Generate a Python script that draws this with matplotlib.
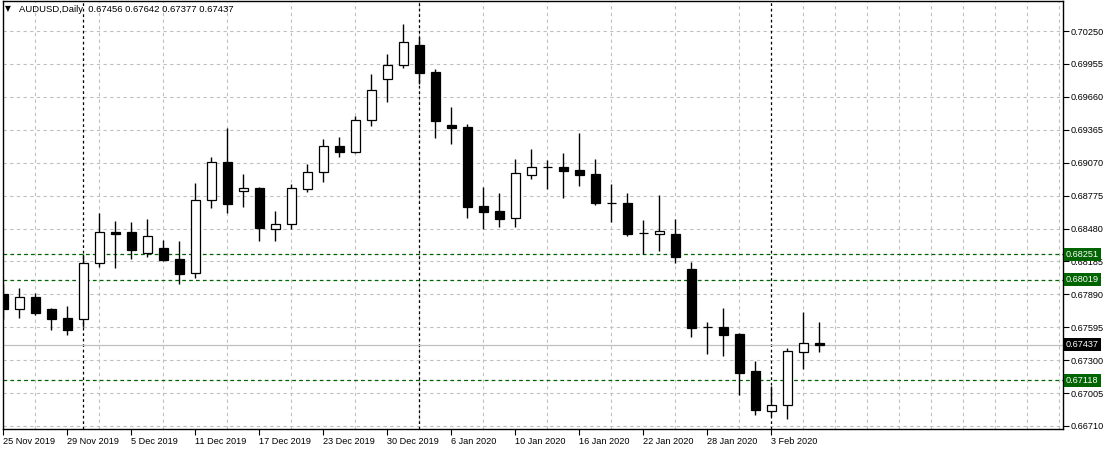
import matplotlib
matplotlib.use("Agg")
import matplotlib.pyplot as plt
import numpy as np

# ---- data ----
symbol_title = "AUDUSD,Daily"
last_ohlc = ["0.67456", "0.67642", "0.67377", "0.67437"]

opens = [0.67890, 0.67756, 0.67866, 0.67759, 0.67678, 0.67666, 0.68168, 0.68449, 0.68446, 0.68258,
         0.68303, 0.68207, 0.68079, 0.68733, 0.69073, 0.68813, 0.68840, 0.68473, 0.68518, 0.68831,
         0.68984, 0.69217, 0.69168, 0.69452, 0.69823, 0.69943, 0.70125, 0.69883, 0.69405, 0.69390,
         0.68682, 0.68637, 0.68571, 0.68957, 0.69030, 0.69031, 0.69004, 0.68968, 0.68707, 0.68709,
         0.68438, 0.68428, 0.68431, 0.68117, 0.67601, 0.67597, 0.67535, 0.67203, 0.66840, 0.66896,
         0.67371, 0.67456]
highs = [0.67980, 0.67947, 0.67902, 0.67770, 0.67785, 0.68249, 0.68622, 0.68547, 0.68538, 0.68565,
         0.68374, 0.68368, 0.68888, 0.69121, 0.69378, 0.68968, 0.68849, 0.68637, 0.68879, 0.69058,
         0.69279, 0.69297, 0.69488, 0.69865, 0.70044, 0.70313, 0.70199, 0.69909, 0.69569, 0.69414,
         0.68855, 0.68798, 0.69103, 0.69193, 0.69094, 0.69157, 0.69336, 0.69103, 0.68879, 0.68796,
         0.68556, 0.68780, 0.68565, 0.68180, 0.67642, 0.67768, 0.67541, 0.67293, 0.67069, 0.67406,
         0.67732, 0.67642]
lows = [0.67666, 0.67681, 0.67705, 0.67573, 0.67528, 0.67595, 0.68138, 0.68129, 0.68209, 0.68222,
        0.68189, 0.67985, 0.68039, 0.68666, 0.68619, 0.68675, 0.68371, 0.68371, 0.68478, 0.68810,
        0.68899, 0.69118, 0.69154, 0.69399, 0.69616, 0.69921, 0.69775, 0.69294, 0.69240, 0.68577,
        0.68478, 0.68491, 0.68493, 0.68926, 0.68831, 0.68756, 0.68864, 0.68691, 0.68538, 0.68413,
        0.68252, 0.68281, 0.68168, 0.67510, 0.67355, 0.67340, 0.66991, 0.66811, 0.66800, 0.66775,
        0.67221, 0.67377]
closes = [0.67756, 0.67863, 0.67725, 0.67666, 0.67573, 0.68168, 0.68446, 0.68433, 0.68290, 0.68410,
          0.68198, 0.68075, 0.68733, 0.69073, 0.68702, 0.68840, 0.68487, 0.68518, 0.68840, 0.68984,
          0.69217, 0.69168, 0.69450, 0.69721, 0.69943, 0.70149, 0.69876, 0.69446, 0.69383, 0.68675,
          0.68631, 0.68568, 0.68975, 0.69029, 0.69028, 0.68998, 0.68962, 0.68709, 0.68705, 0.68433,
          0.68436, 0.68458, 0.68227, 0.67591, 0.67599, 0.67528, 0.67188, 0.66853, 0.66896, 0.67380,
          0.67451, 0.67437]

date_tick_bars = [0, 4, 8, 12, 16, 20, 24, 28, 32, 36, 40, 44, 48]
date_tick_labels = ["25 Nov 2019", "29 Nov 2019", "5 Dec 2019", "11 Dec 2019", "17 Dec 2019",
                    "23 Dec 2019", "30 Dec 2019", "6 Jan 2020", "10 Jan 2020", "16 Jan 2020",
                    "22 Jan 2020", "28 Jan 2020", "3 Feb 2020"]
month_start_bars = [5, 26, 48]

price_ticks = [0.70250, 0.69955, 0.69660, 0.69365, 0.69070, 0.68775, 0.68480, 0.68185,
               0.67890, 0.67595, 0.67300, 0.67005, 0.66710]
green_levels = [0.68251, 0.68019, 0.67118]
current_price = 0.67437

# ---- figure ----
plt.rcParams['font.family'] = ['Liberation Sans', 'DejaVu Sans']
W, H = 1109, 450
fig = plt.figure(figsize=(W / 100, H / 100), dpi=100)
ax = fig.add_axes([3 / W, (H - 429) / H, (1063 - 3) / W, (429 - 1) / H])
ax.set_xlim(-0.02, 66.23)
ax.set_ylim(0.66683, 0.70519)

x = np.arange(len(opens))
o = np.array(opens); h = np.array(highs); l = np.array(lows); c = np.array(closes)
bull = c >= o

# grid
ax.set_yticks(price_ticks)
ax.set_yticklabels([f"{p:.5f}" for p in price_ticks])
ax.grid(which='major', axis='y', color='#c0c0c0', linestyle=(0, (3, 3)), linewidth=0.8)
ax.set_xticks(np.arange(2, 67, 2), minor=True)
ax.grid(which='minor', axis='x', color='#c0c0c0', linestyle=(0, (3, 3)), linewidth=0.8)
ax.tick_params(which='minor', length=0)
ax.set_axisbelow(True)

# month separators
for b in month_start_bars:
    ax.axvline(b, color='black', linestyle=(0, (2.2, 2.2)), linewidth=0.9, zorder=1)

# horizontal lines
for g in green_levels:
    ax.axhline(g, color='#006400', linestyle=(0, (3, 2.5)), linewidth=0.9, zorder=1.5)
ax.axhline(current_price, color='#c0c0c0', linewidth=0.9, zorder=1.5)

# candles
ax.vlines(x, l, h, color='black', linewidth=1.0, zorder=2)
bottoms = np.minimum(o, c)
heights = np.maximum(np.abs(c - o), 0.00001)
ax.bar(x, heights, bottom=bottoms, width=0.56,
       color=np.where(bull, 'white', 'black'), edgecolor='black', linewidth=0.9, zorder=3)

# axes styling
for s in ax.spines.values():
    s.set_color('black')
    s.set_linewidth(1.0)
ax.yaxis.tick_right()
ax.tick_params(axis='y', which='major', length=4, width=0.8, pad=1.5, labelsize=6.6,
               colors='black', direction='out')
ax.set_xticks(date_tick_bars)
ax.set_xticklabels(date_tick_labels)
ax.tick_params(axis='x', which='major', length=4, width=0.8, pad=1.5, labelsize=6.6,
               colors='black', direction='out')
for lbl in ax.get_xticklabels():
    lbl.set_horizontalalignment('left')

# price boxes on the right
for g in green_levels:
    ax.annotate(f"{g:.5f}", xy=(1, g), xycoords=('axes fraction', 'data'),
                xytext=(2.2, 0), textcoords='offset points', va='center', ha='left',
                fontsize=6.6, color='white', annotation_clip=False, zorder=10,
                bbox=dict(boxstyle='square,pad=0.22', fc='#006400', ec='none'))
ax.annotate(f"{current_price:.5f}", xy=(1, current_price), xycoords=('axes fraction', 'data'),
            xytext=(2.2, 0), textcoords='offset points', va='center', ha='left',
            fontsize=6.6, color='white', annotation_clip=False, zorder=10,
            bbox=dict(boxstyle='square,pad=0.22', fc='black', ec='none'))

# header
fig.text(5 / W, 1 - 9 / H, "\u25BC", fontsize=5.5, va='center', ha='left',
         family=['DejaVu Sans'], color='black')
fig.text(19 / W, 1 - 9 / H, symbol_title + "  " + " ".join(last_ohlc),
         fontsize=6.8, va='center', ha='left', color='black')

fig.savefig("out.png", dpi=100, facecolor='white')
